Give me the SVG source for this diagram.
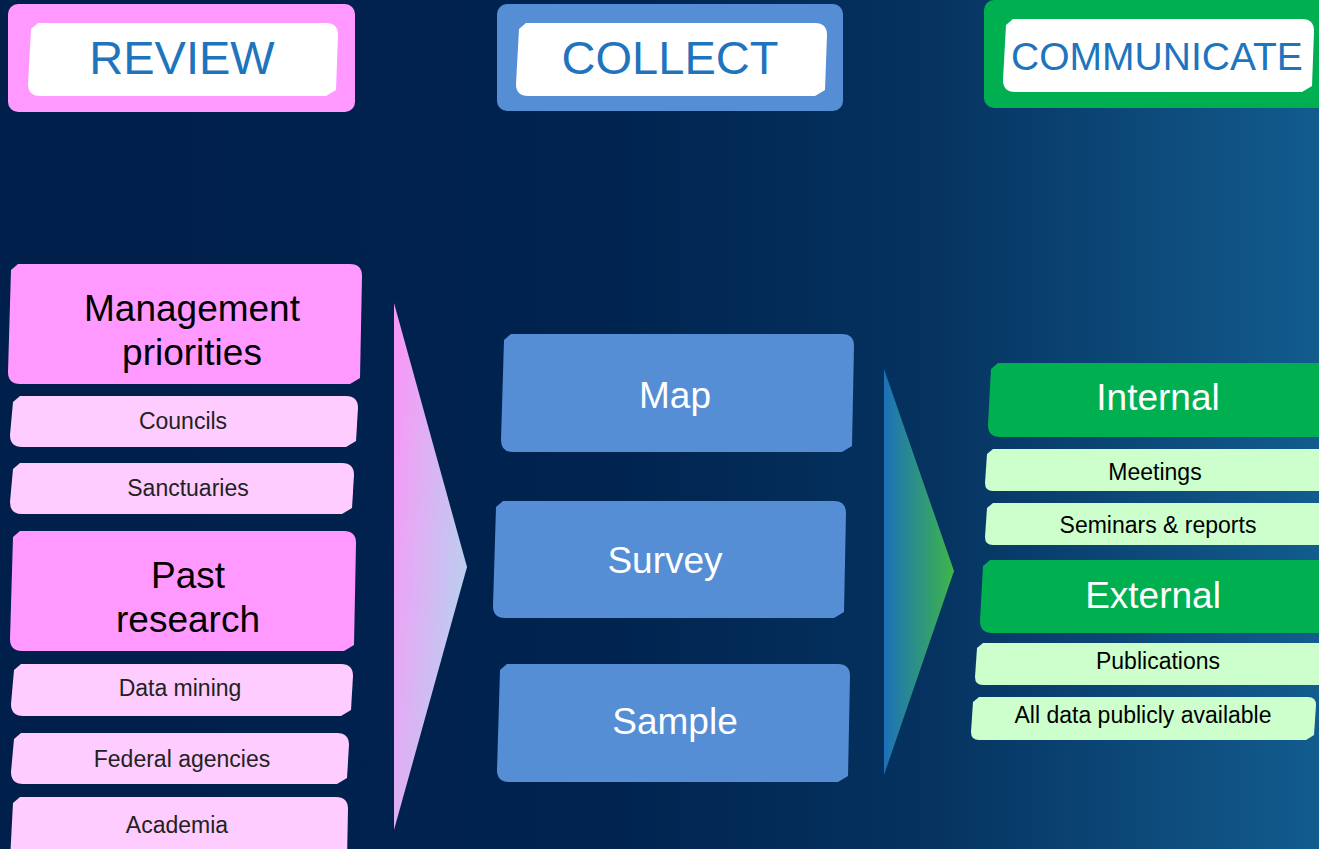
<svg xmlns="http://www.w3.org/2000/svg" width="1319" height="849" viewBox="0 0 1319 849">
<defs>
<linearGradient id="bg" x1="0" y1="0" x2="1" y2="0">
<stop offset="0" stop-color="#001f4a"/>
<stop offset="0.45" stop-color="#00234f"/>
<stop offset="0.7" stop-color="#05325f"/>
<stop offset="1" stop-color="#125c8e"/>
</linearGradient>
<linearGradient id="gPink" x1="0" y1="0.2" x2="1" y2="0.8">
<stop offset="0" stop-color="#f79af7"/>
<stop offset="1" stop-color="#b2d6ee"/>
</linearGradient>
<linearGradient id="gBlue" x1="0" y1="0" x2="1" y2="0">
<stop offset="0" stop-color="#1d70b9"/>
<stop offset="1" stop-color="#3fb648"/>
</linearGradient>
<style>
text{font-family:"Liberation Sans",Arial,sans-serif;text-anchor:middle}
.hdr{font-size:47px;fill:#1e74bd}
.hdr2{font-size:39px;fill:#1e74bd}
.big{font-size:37px;fill:#000}
.sm{font-size:23px;fill:#222}
.smg{font-size:23px;fill:#000}
.wbig{font-size:37px;fill:#fff}
.pink{fill:#ff99ff}
.lpink{fill:#ffccff}
.blue{fill:#558ed5}
.green{fill:#00b050}
.lgreen{fill:#ccffcc}
.white{fill:#fff}
</style>
</defs>
<rect x="0" y="0" width="1319" height="849" fill="url(#bg)"/>

<g id="review">
<rect x="8" y="4" width="347" height="108" rx="10" class="pink"/>
<path class="white" d="M38,23 L326,23 Q338,23 338,35 L336,90 L326,96 L40,96 Q28,96 28,84 L31,29 Z"/>
<text class="hdr" x="182" y="74">REVIEW</text>
</g>
<g id="collect">
<rect x="497" y="4" width="346" height="107" rx="10" class="blue"/>
<path class="white" d="M526,23 L815,23 Q827,23 827,35 L825,90 L815,96 L528,96 Q516,96 516,84 L519,29 Z"/>
<text class="hdr" x="670" y="74">COLLECT</text>
</g>
<g id="communicate">
<rect x="984" y="0" width="345" height="108" rx="10" class="green"/>
<path class="white" d="M1013,19 L1302,19 Q1314,19 1314,31 L1312,86 L1302,92 L1015,92 Q1003,92 1003,80 L1006,25 Z"/>
<text class="hdr2" x="1157" y="70">COMMUNICATE</text>
</g>

<g id="management">
<path class="pink" d="M18,264 L350,264 Q362,264 362,276 L360,378 L350,384 L20,384 Q8,384 8,372 L11,270 Z"/>
<text class="big" x="192" y="321">Management</text>
<text class="big" x="192" y="365">priorities</text>
</g>
<g id="councils">
<path class="lpink" d="M20,396 L346,396 Q358,396 358,408 L356,441 L346,447 L22,447 Q10,447 10,435 L13,402 Z"/>
<text class="sm" x="183" y="429">Councils</text>
</g>
<g id="sanctuaries">
<path class="lpink" d="M20,463 L342,463 Q354,463 354,475 L352,508 L342,514 L22,514 Q10,514 10,502 L13,469 Z"/>
<text class="sm" x="188" y="496">Sanctuaries</text>
</g>
<g id="past">
<path class="pink" d="M20,531 L344,531 Q356,531 356,543 L354,645 L344,651 L22,651 Q10,651 10,639 L13,537 Z"/>
<text class="big" x="188" y="588">Past</text>
<text class="big" x="188" y="632">research</text>
</g>
<g id="datamining">
<path class="lpink" d="M21,664 L341,664 Q353,664 353,676 L351,710 L341,716 L23,716 Q11,716 11,704 L14,670 Z"/>
<text class="sm" x="180" y="696">Data mining</text>
</g>
<g id="federal">
<path class="lpink" d="M21,733 L337,733 Q349,733 349,745 L347,778 L337,784 L23,784 Q11,784 11,772 L14,739 Z"/>
<text class="sm" x="182" y="767">Federal agencies</text>
</g>
<g id="academia">
<path class="lpink" d="M20,797 L336,797 Q348,797 348,809 L347,860 L10,860 L13,803 Z"/>
<text class="sm" x="177" y="833">Academia</text>
</g>

<g id="map">
<path class="blue" d="M511,334 L842,334 Q854,334 854,346 L852,446 L842,452 L513,452 Q501,452 501,440 L504,340 Z"/>
<text class="wbig" x="675" y="408">Map</text>
</g>
<g id="survey">
<path class="blue" d="M503,501 L834,501 Q846,501 846,513 L844,612 L834,618 L505,618 Q493,618 493,606 L496,507 Z"/>
<text class="wbig" x="665" y="573">Survey</text>
</g>
<g id="sample">
<path class="blue" d="M507,664 L838,664 Q850,664 850,676 L848,776 L838,782 L509,782 Q497,782 497,770 L500,670 Z"/>
<text class="wbig" x="675" y="734">Sample</text>
</g>

<g id="internal">
<path class="green" d="M998,363 L1330,363 L1330,437 L1000,437 Q988,437 988,425 L991,369 Z"/>
<text class="wbig" x="1158" y="410">Internal</text>
</g>
<g id="meetings">
<path class="lgreen" d="M993,449 L1330,449 L1330,491 L993,491 Q985,491 985,483 L987,454 Z"/>
<text class="smg" x="1155" y="480">Meetings</text>
</g>
<g id="seminars">
<path class="lgreen" d="M993,503 L1330,503 L1330,545 L993,545 Q985,545 985,537 L987,508 Z"/>
<text class="smg" x="1158" y="533">Seminars &amp; reports</text>
</g>
<g id="external">
<path class="green" d="M990,560 L1330,560 L1330,633 L992,633 Q980,633 980,621 L983,566 Z"/>
<text class="wbig" x="1153" y="608">External</text>
</g>
<g id="publications">
<path class="lgreen" d="M983,643 L1330,643 L1330,685 L983,685 Q975,685 975,677 L977,648 Z"/>
<text class="smg" x="1158" y="669">Publications</text>
</g>
<g id="alldata">
<path class="lgreen" d="M979,697 L1308,697 Q1316,697 1316,705 L1314,735 L1306,740 L979,740 Q971,740 971,732 L973,702 Z"/>
<text class="smg" x="1143" y="723">All data publicly available</text>
</g>

<g id="connectors">
<polygon points="394,303 467,567 394,830" fill="url(#gPink)"/>
<polygon points="884,369 954,571 884,775" fill="url(#gBlue)"/>
</g>
</svg>
